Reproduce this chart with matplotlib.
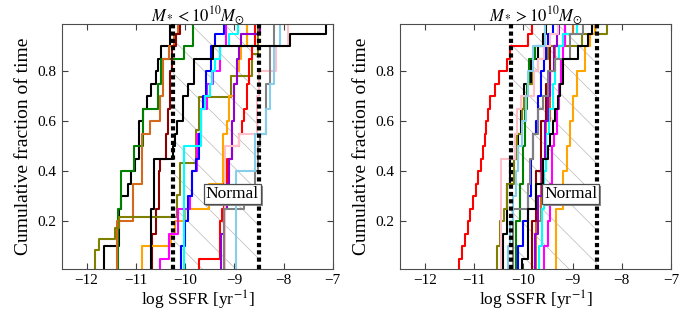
import matplotlib
matplotlib.use('Agg')
import matplotlib.pyplot as plt
import matplotlib.patheffects as pe
import numpy as np

plt.rcParams['font.family'] = ['Liberation Serif', 'DejaVu Serif']
plt.rcParams['mathtext.fontset'] = 'stix'
plt.rcParams['hatch.linewidth'] = 0.5

# log SSFR samples per galaxy, M* < 1e10
lo_black_a = [-11.64, -11.64, -11.34, -11.34, -11.34, -11.3, -11.15, -11.1, -11.02, -10.93,
              -10.93, -10.93, -10.85, -10.78, -10.70, -10.6, -10.55, -10.48, -10.30, -10.30]
lo_green = [-11.37, -11.37, -11.37, -11.37, -11.37, -11.3, -11.3, -11.3, -11.04, -11.04,
            -10.85, -10.85, -10.85, -10.55, -10.55, -10.48, -10.48, -10.03, -9.84, -9.84]
lo_chocolate = [-11.38, -11.38, -11.38, -11.38, -11.05, -11.05, -11.05, -10.88, -10.88, -10.88,
                -10.88, -10.72, -10.51, -10.51, -10.45, -10.45, -10.45, -10.33, -10.22, -10.15]
lo_darkred = [-10.68, -10.68, -10.68, -10.60, -10.60, -10.53, -10.53, -10.53, -10.50, -10.39,
              -10.39, -10.34, -10.34, -10.31, -10.31, -10.31, -10.26, -10.26, -10.18, -10.1]
lo_olive = [-11.84, -11.84, -11.74, -11.42, -11.34, -10.17, -10.17, -10.1, -10.1, -10.1, -9.77,
            -9.77, -9.77, -9.71, -9.71, -9.71, -9.07, -9.07, -8.65, -8.65, -8.52, -8.52, -8.52]
lo_orange = [-10.88, -10.88, -10.29, -10.2, -10.0, -9.52, -9.52, -9.22, -9.22, -9.22,
             -9.22, -9.15, -9.1, -9.1, -9.0, -8.95, -8.9, -8.86, -8.75, -8.75]
lo_magenta = [-10.5, -10.32, -10.32, -10.15, -10.15, -9.9, -9.85, -9.85, -9.75, -9.75,
              -9.75, -9.68, -9.68, -9.55, -9.55, -9.44, -9.3, -9.3, -9.17, -9.17]
lo_blue = [-10.08, -10.08, -10.0, -10.0, -9.95, -9.95, -9.85, -9.85, -9.77, -9.72,
           -9.72, -9.67, -9.67, -9.63, -9.58, -9.58, -9.47, -9.47, -9.4, -9.2]
lo_cyan = [-10.03, -10.03, -10.03, -10.03, -10.03, -10.03, -10.03, -10.03, -10.03, -10.03,
           -9.67, -9.67, -9.67, -9.6, -9.5, -9.45, -9.4, -9.3, -9.1, -8.92]
lo_red = [-9.72, -9.3, -9.3, -9.3, -9.25, -9.2, -9.2, -9.15, -9.15, -9.05,
          -8.9, -8.85, -8.8, -8.75, -8.75, -8.7, -8.7, -8.65, -8.58, -8.58]
lo_purple = [-9.28, -9.28, -9.28, -9.2, -9.2, -9.15, -9.15, -9.1, -9.1, -9.05,
             -9.05, -9.05, -9.0, -9.0, -9.0, -8.95, -8.95, -8.9, -8.86, -8.48]
lo_pink = [-9.18, -9.18, -9.18, -9.18, -9.18, -9.18, -9.18, -9.18, -9.18, -9.18,
           -8.9, -8.53, -8.53, -8.53, -8.5, -8.5, -8.15, -8.15, -7.9, -7.9]
lo_gray = [-9.2, -9.2, -9.2, -9.2, -9.2, -8.8, -8.58, -8.58, -8.52, -8.52,
           -8.47, -8.35, -8.35, -8.35, -8.35, -8.28, -8.28, -8.28, -8.2, -8.2]
lo_skyblue = [-8.96, -8.96, -8.96, -8.96, -8.96, -8.96, -8.96, -8.96, -8.59, -8.59,
              -8.59, -8.35, -8.35, -8.28, -8.28, -8.2, -8.2, -8.2, -8.08, -8.08]
lo_black_b = [-10.70, -10.70, -10.70, -10.70, -10.70, -10.63, -10.63, -10.63, -10.63, -10.25,
              -10.2, -10.17, -10.04, -10.04, -9.94, -9.82, -9.82, -9.43, -7.86, -7.13]

# log SSFR samples per galaxy, M* > 1e10
hi_black_a = [-10.42, -10.42, -10.42, -10.34, -10.34, -10.34, -10.34, -10.27, -10.27, -10.1,
              -10.1, -10.05, -10.05, -9.98, -9.98, -9.85, -9.85, -9.7, -9.6, -9.55]
hi_green = [-10.15, -10.15, -10.15, -10.15, -10.07, -10.07, -10.07, -10.0, -10.0, -10.0,
            -9.96, -9.96, -9.96, -9.92, -9.92, -9.88, -9.88, -9.76, -9.56, -9.56]
hi_chocolate = [-9.75, -9.75, -9.75, -9.75, -9.65, -9.65, -9.65, -9.65, -9.55, -9.55,
                -9.55, -9.55, -9.45, -9.45, -9.45, -9.45, -9.35, -9.35, -9.2, -9.0]
hi_darkred = [-9.82, -9.82, -9.82, -9.82, -9.75, -9.75, -9.75, -9.75, -9.65, -9.65,
              -9.65, -9.65, -9.55, -9.55, -9.55, -9.45, -9.45, -9.45, -9.15, -9.15]
hi_olive = [-10.54, -10.54, -10.47, -10.47, -10.4, -10.33, -10.33, -10.2, -10.2, -10.13,
            -10.13, -10.03, -10.03, -9.98, -9.9, -9.8, -9.7, -9.5, -8.8, -8.3]
hi_orange = [-9.33, -9.33, -9.33, -9.33, -9.33, -9.2, -9.2, -9.2, -9.12, -9.12,
             -9.05, -9.05, -9.0, -9.0, -8.92, -8.92, -8.75, -8.75, -8.65, -8.55]
hi_magenta = [-9.58, -9.58, -9.5, -9.5, -9.45, -9.45, -9.45, -9.42, -9.42, -9.42,
              -9.38, -9.32, -9.32, -9.28, -9.28, -9.23, -9.23, -9.2, -9.15, -9.15]
hi_blue = [-10.1, -10.1, -10.0, -10.0, -9.9, -9.9, -9.85, -9.85, -9.85, -9.8,
           -9.8, -9.75, -9.7, -9.7, -9.65, -9.65, -9.58, -9.55, -9.5, -9.39]
hi_cyan = [-9.68, -9.68, -9.62, -9.62, -9.62, -9.58, -9.58, -9.58, -9.55, -9.55,
           -9.55, -9.48, -9.48, -9.4, -9.4, -9.35, -9.35, -9.28, -9.2, -8.92]
hi_red = [-11.31, -11.25, -11.18, -11.12, -11.08, -11.02, -10.97, -10.92, -10.87, -10.83,
          -10.78, -10.75, -10.72, -10.67, -10.58, -10.49, -10.34, -10.27, -9.9, -9.83]
hi_purple = [-9.77, -9.77, -9.77, -9.7, -9.7, -9.7, -9.63, -9.63, -9.63, -9.56,
             -9.56, -9.56, -9.5, -9.5, -9.45, -9.45, -9.38, -9.38, -9.32, -9.28]
hi_pink = [-10.45, -10.45, -10.45, -10.45, -10.45, -10.45, -10.45, -10.45, -10.45, -10.18,
           -10.18, -10.12, -10.12, -10.05, -9.78, -9.78, -9.7, -9.58, -9.45, -9.3]
hi_gray = [-10.22, -10.22, -10.22, -10.22, -10.22, -9.91, -9.91, -9.87, -9.87, -9.8,
           -9.8, -9.71, -9.71, -9.6, -9.5, -9.5, -9.35, -9.05, -9.05, -8.78]
hi_skyblue = [-10.32, -10.32, -10.28, -10.28, -10.22, -10.22, -10.15, -10.15, -10.1, -10.1,
              -10.02, -10.02, -9.95, -9.95, -9.9, -9.9, -9.8, -9.8, -9.56, -9.56]
hi_black_b = [-10.03, -9.9, -9.9, -9.9, -9.9, -9.74, -9.74, -9.6, -9.6, -9.5,
              -9.45, -9.4, -9.35, -9.3, -9.25, -9.19, -9.19, -8.89, -8.69, -8.6]

line_colors = ['black', 'green', 'chocolate', 'darkred', 'olive', 'orange', 'magenta', 'blue',
               'cyan', 'red', 'darkviolet', 'pink', 'gray', 'skyblue', 'black']
low_mass = [lo_black_a, lo_green, lo_chocolate, lo_darkred, lo_olive, lo_orange, lo_magenta,
            lo_blue, lo_cyan, lo_red, lo_purple, lo_pink, lo_gray, lo_skyblue, lo_black_b]
high_mass = [hi_black_a, hi_green, hi_chocolate, hi_darkred, hi_olive, hi_orange, hi_magenta,
             hi_blue, hi_cyan, hi_red, hi_purple, hi_pink, hi_gray, hi_skyblue, hi_black_b]

normal_lo, normal_hi = -10.25, -8.5


def cdf_panel(ax, samples, title):
    ax.axvspan(normal_lo, normal_hi, facecolor='none', edgecolor='0.72', hatch='\\', lw=0, zorder=0)
    for vals, c in zip(samples, line_colors):
        xs = np.sort(vals)
        ys = np.arange(1, len(xs) + 1) / len(xs)
        ax.step(np.r_[xs[0], xs], np.r_[0, ys], where='post', color=c, lw=1.5, zorder=2)
    for x in (normal_lo, normal_hi):
        ax.axvline(x, color='k', lw=3, ls=(0, (1, 0.75)), zorder=3)
    t = ax.text(normal_hi, 0.31, 'Normal', ha='right', va='center', fontsize=12.5, zorder=5,
                bbox=dict(boxstyle='square,pad=0.12', fc='white', ec='0.3', lw=0.9))
    t.get_bbox_patch().set_path_effects([pe.SimplePatchShadow(offset=(1.5, -1.5), shadow_rgbFace='0.5', alpha=0.9),
                                         pe.Normal()])
    ax.set_xlim(-12.5, -7)
    ax.set_ylim(0.01, 0.99)
    ax.set_xticks([-12, -11, -10, -9, -8, -7])
    ax.set_yticks([0.2, 0.4, 0.6, 0.8])
    ax.tick_params(direction='in', top=True, right=True, length=4, labelsize=11, color='0.25', pad=4)
    for s in ax.spines.values():
        s.set_color('0.3')
    ax.set_xlabel(r'log SSFR [yr$^{-1}$]', fontsize=12.5, labelpad=1)
    ax.set_ylabel('Cumulative fraction of time', fontsize=14, labelpad=4)
    ax.set_title(title, fontsize=12, pad=2)


fig = plt.figure(figsize=(6.89, 3.13), dpi=100)
ax1 = fig.add_axes([0.090, 0.141, 0.393, 0.783])
ax2 = fig.add_axes([0.581, 0.141, 0.393, 0.783])
cdf_panel(ax1, low_mass, r'$M_* < 10^{10} M_{\odot}$')
cdf_panel(ax2, high_mass, r'$M_* > 10^{10} M_{\odot}$')
fig.savefig('out.png', dpi=100)
